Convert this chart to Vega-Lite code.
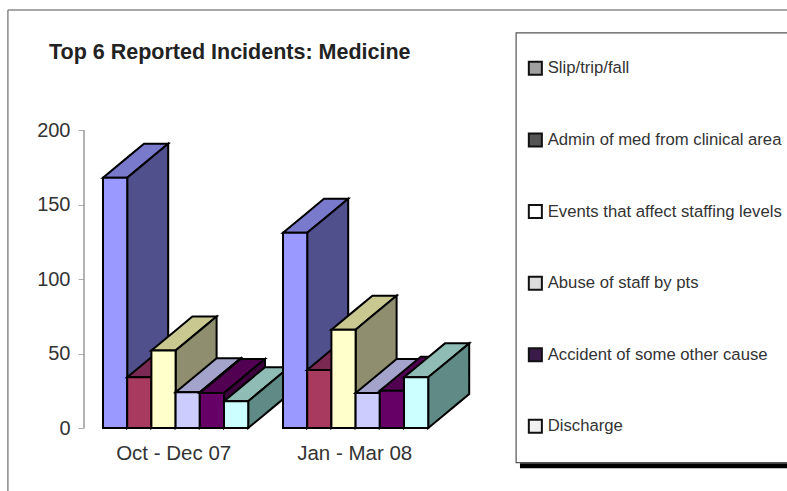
{
  "$schema": "https://vega.github.io/schema/vega-lite/v6.json",
  "width": 787,
  "height": 491,
  "padding": 0,
  "autosize": {"type": "none"},
  "background": "white",
  "view": {"stroke": null},
  "title": {
    "text": "Top 6 Reported Incidents: Medicine",
    "anchor": "start",
    "frame": "group",
    "dx": 49,
    "offset": -63,
    "font": "Liberation Sans",
    "fontSize": 21.5,
    "fontWeight": "bold",
    "color": "#222222"
  },
  "data": {
    "values": [
      {"period": "Oct - Dec 07", "category": "Slip/trip/fall", "value": 168},
      {"period": "Oct - Dec 07", "category": "Admin of med from clinical area", "value": 34},
      {"period": "Oct - Dec 07", "category": "Events that affect staffing levels", "value": 52},
      {"period": "Oct - Dec 07", "category": "Abuse of staff by pts", "value": 24},
      {"period": "Oct - Dec 07", "category": "Accident of some other cause", "value": 23.5},
      {"period": "Oct - Dec 07", "category": "Discharge", "value": 18},
      {"period": "Jan - Mar 08", "category": "Slip/trip/fall", "value": 131},
      {"period": "Jan - Mar 08", "category": "Admin of med from clinical area", "value": 39},
      {"period": "Jan - Mar 08", "category": "Events that affect staffing levels", "value": 66},
      {"period": "Jan - Mar 08", "category": "Abuse of staff by pts", "value": 23.5},
      {"period": "Jan - Mar 08", "category": "Accident of some other cause", "value": 25},
      {"period": "Jan - Mar 08", "category": "Discharge", "value": 34}
    ]
  },
  "layer": [
    {
      "data": {"values": [{"part": "frame top"}]},
      "mark": {"type": "rule", "color": "#8a8a8a", "strokeWidth": 1.5},
      "encoding": {
        "x": {"datum": -3.93, "type": "quantitative", "scale": {"domain": [-4.256, 28.264]}},
        "x2": {"datum": 28.264},
        "y": {"datum": 280.5, "type": "quantitative", "scale": {"domain": [-42.28, 287.25]}}
      }
    },
    {
      "data": {"values": [{"part": "frame left"}]},
      "mark": {"type": "rule", "color": "#8a8a8a", "strokeWidth": 1.5},
      "encoding": {
        "x": {"datum": -3.93, "type": "quantitative", "scale": {"domain": [-4.256, 28.264]}},
        "y": {"datum": 280.5, "type": "quantitative", "scale": {"domain": [-42.28, 287.25]}},
        "y2": {"datum": -42.28}
      }
    },
    {
      "data": {"values": [{"part": "legend shadow"}]},
      "mark": {"type": "rule", "color": "#000000", "strokeWidth": 5},
      "encoding": {
        "x": {"datum": 17.23, "type": "quantitative", "scale": {"domain": [-4.256, 28.264]}},
        "x2": {"datum": 28.264},
        "y": {"datum": -25.3, "type": "quantitative", "scale": {"domain": [-42.28, 287.25]}}
      }
    },
    {
      "data": {"values": [{"part": "legend box"}]},
      "mark": {"type": "rect", "fill": "white", "stroke": "#555555", "strokeWidth": 1.2},
      "encoding": {
        "x": {"datum": 17.07, "type": "quantitative", "scale": {"domain": [-4.256, 28.264]}},
        "x2": {"datum": 29},
        "y": {"datum": 265.2, "type": "quantitative", "scale": {"domain": [-42.28, 287.25]}},
        "y2": {"datum": -23.2}
      }
    },
    {
      "data": {"values": [{"part": "value axis line"}]},
      "mark": {"type": "rule", "color": "#9a9a9a", "strokeWidth": 1.5},
      "encoding": {
        "x": {"datum": -0.785, "type": "quantitative", "scale": {"domain": [-4.256, 28.264]}},
        "y": {"datum": 0, "type": "quantitative", "scale": {"domain": [-42.28, 287.25]}},
        "y2": {"datum": 200}
      }
    },
    {
      "transform": [
        {"calculate": "(datum.period === 'Oct - Dec 07' ? 0 : 7.438) + indexof(['Slip/trip/fall','Admin of med from clinical area','Events that affect staffing levels','Abuse of staff by pts','Accident of some other cause','Discharge'], datum.category)", "as": "slot"},
        {"calculate": "['top','side','front']", "as": "faces"},
        {"flatten": ["faces"], "as": ["face"]},
        {"calculate": "[0,1,2,3]", "as": "steps"},
        {"flatten": ["steps"], "as": ["step"]},
        {"calculate": "datum.category + '|' + datum.face", "as": "faceKey"},
        {"calculate": "datum.period + '|' + datum.faceKey", "as": "barFace"},
        {"calculate": "datum.face === 'front' ? datum.slot + datum.step / 3 : datum.face === 'side' ? datum.slot + 1 + 1.694 * datum.step / 3 : datum.slot + [0, 1, 1.694, 2.694][datum.step]", "as": "px"},
        {"calculate": "datum.face === 'front' ? 0 : datum.face === 'side' ? 22.8 * datum.step / 3 : datum.value + [0, 0, 9.34, 22.8][datum.step]", "as": "low"},
        {"calculate": "datum.face === 'front' ? datum.value : datum.face === 'side' ? datum.value + 22.8 * datum.step / 3 : datum.value + [0, 13.46, 22.8, 22.8][datum.step]", "as": "high"}
      ],
      "mark": {"type": "area", "stroke": "#000000", "strokeWidth": 2, "strokeJoin": "miter", "opacity": 1},
      "encoding": {
        "x": {
          "field": "px",
          "type": "quantitative",
          "scale": {"domain": [-4.256, 28.264]},
          "axis": {
            "orient": "bottom",
            "offset": -63,
            "title": null,
            "values": [2.9, 10.38],
            "labelExpr": "datum.value < 5 ? 'Oct - Dec 07' : 'Jan - Mar 08'",
            "domain": false,
            "ticks": false,
            "grid": false,
            "labelPadding": 15,
            "labelFont": "Liberation Sans",
            "labelFontSize": 20.5,
            "labelColor": "#333333"
          }
        },
        "y": {
          "field": "low",
          "type": "quantitative",
          "stack": null,
          "scale": {"domain": [-42.28, 287.25]},
          "axis": {
            "orient": "left",
            "offset": -84,
            "title": null,
            "values": [0, 50, 100, 150, 200],
            "domain": false,
            "grid": false,
            "tickSize": 6,
            "tickColor": "#b0b0b0",
            "labelPadding": 8,
            "labelFont": "Liberation Sans",
            "labelFontSize": 20,
            "labelColor": "#333333"
          }
        },
        "y2": {"field": "high"},
        "detail": {"field": "barFace"},
        "color": {
          "field": "faceKey",
          "type": "nominal",
          "legend": null,
          "scale": {
            "domain": [
              "Slip/trip/fall|top", "Slip/trip/fall|side", "Slip/trip/fall|front",
              "Admin of med from clinical area|top", "Admin of med from clinical area|side", "Admin of med from clinical area|front",
              "Events that affect staffing levels|top", "Events that affect staffing levels|side", "Events that affect staffing levels|front",
              "Abuse of staff by pts|top", "Abuse of staff by pts|side", "Abuse of staff by pts|front",
              "Accident of some other cause|top", "Accident of some other cause|side", "Accident of some other cause|front",
              "Discharge|top", "Discharge|side", "Discharge|front"
            ],
            "range": [
              "#7a7acc", "#50508c", "#9999ff",
              "#7a2952", "#4f1a35", "#a83a60",
              "#c8c890", "#8f8f70", "#ffffcc",
              "#a3a3cc", "#70708c", "#ccccff",
              "#520052", "#3d003d", "#660066",
              "#8fbdb5", "#5f8a85", "#ccffff"
            ]
          }
        }
      }
    },
    {
      "mark": {"type": "point", "filled": true, "shape": "square", "opacity": 0},
      "encoding": {
        "fill": {
          "field": "category",
          "type": "nominal",
          "scale": {
            "domain": ["Slip/trip/fall", "Admin of med from clinical area", "Events that affect staffing levels", "Abuse of staff by pts", "Accident of some other cause", "Discharge"],
            "range": ["#a0a0a0", "#555555", "#ffffff", "#dcdcdc", "#3a1a48", "#f2f2f2"]
          },
          "legend": {
            "title": null,
            "orient": "none",
            "legendX": 527,
            "legendY": 60,
            "symbolType": "square",
            "symbolSize": 170,
            "symbolOpacity": 1,
            "symbolStrokeColor": "#111111",
            "symbolStrokeWidth": 2,
            "labelFont": "Liberation Sans",
            "labelFontSize": 16.7,
            "labelColor": "#333333",
            "labelLimit": 400,
            "labelOffset": 4,
            "rowPadding": 49.6,
            "padding": 0
          }
        }
      }
    }
  ],
  "resolve": {"scale": {"fill": "independent", "color": "independent"}}
}
